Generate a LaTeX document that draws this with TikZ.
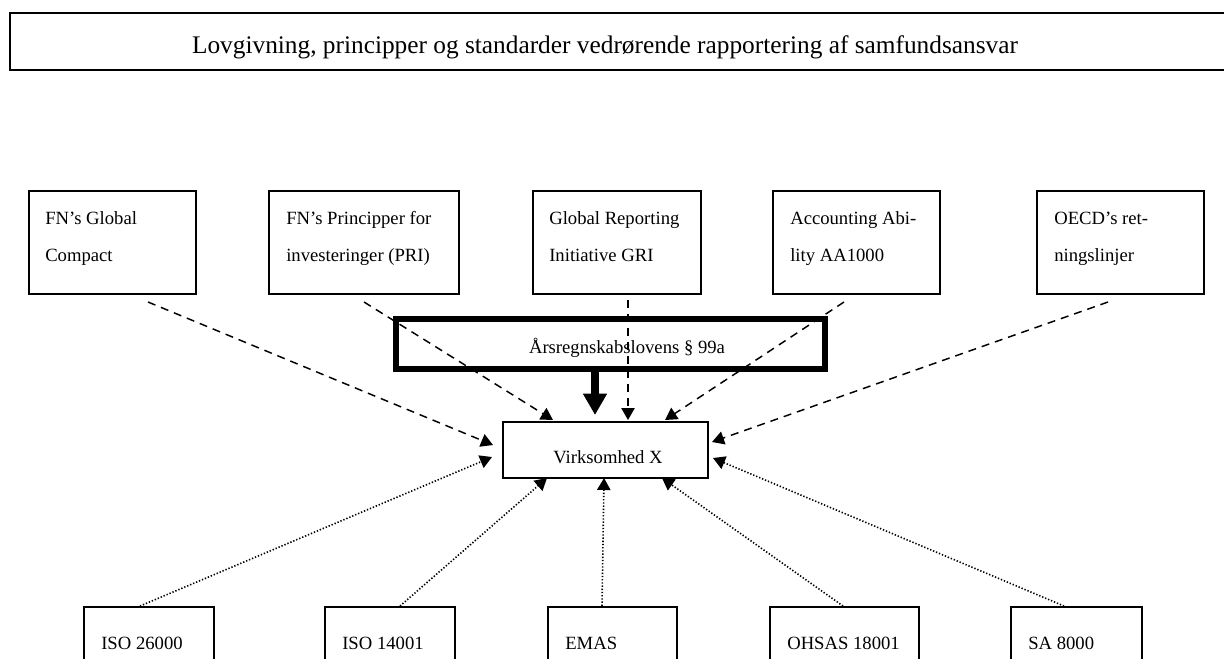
\documentclass[tikz,border=0pt]{standalone}
\usepackage{fontspec}
\setmainfont{Liberation Serif}
\usetikzlibrary{arrows.meta}
\begin{document}
\begin{tikzpicture}[x=0.75pt,y=-0.75pt,
  box/.style={draw, line width=1.2pt, inner sep=0pt},
  pxsize/.style n args={2}{minimum width={#1*0.75pt}, minimum height={#2*0.75pt}},
  txt/.style={anchor=base west, inner sep=0pt, font=\fontsize{14}{16}\selectfont},
  ctxt/.style={anchor=base, inner sep=0pt, font=\fontsize{14}{16}\selectfont},
  tip/.style={-{Triangle[length=9pt,width=10pt]}},
  dashar/.style={tip, line width=1.1pt, dash pattern=on 6pt off 4.5pt},
  dotar/.style={tip, line width=1.2pt, dash pattern=on 1pt off 1.4pt},
]
\useasboundingbox (0,0) rectangle (1224,658);
\clip (0,0) rectangle (1224,658);

% banner
\node[box, line width=1.6pt, pxsize={1240}{57}, anchor=north west] (ban) at (9,12) {};
\node[ctxt, font=\fontsize{19}{22}\selectfont] (bant) at (605,53) {Lovgivning, principper og standarder vedrørende rapportering af samfundsansvar};

% top row
\node[box, pxsize={167}{103}, anchor=north west] (b1) at (28,190) {};
\node[box, pxsize={190}{103}, anchor=north west] (b2) at (268,190) {};
\node[box, pxsize={168}{103}, anchor=north west] (b3) at (532,190) {};
\node[box, pxsize={167}{103}, anchor=north west] (b4) at (772,190) {};
\node[box, pxsize={167}{103}, anchor=north west] (b5) at (1036,190) {};
\node[txt] (b1a) at (45,224) {FN’s Global};
\node[txt] (b1b) at (45,261) {Compact};
\node[txt] (b2a) at (286,224) {FN’s Principper for};
\node[txt] (b2b) at (286,261) {investeringer (PRI)};
\node[txt] (b3a) at (549,224) {Global Reporting};
\node[txt] (b3b) at (549,261) {Initiative GRI};
\node[txt] (b4a) at (790,224) {Accounting Abi-};
\node[txt] (b4b) at (790,261) {lity AA1000};
\node[txt] (b5a) at (1054,224) {OECD’s ret-};
\node[txt] (b5b) at (1054,261) {ningslinjer};

% law box
\node[draw, line width=4.5pt, inner sep=0pt, pxsize={429}{50}, anchor=north west] (law) at (393,316) {};
\node[ctxt] (lawt) at (627,353) {Årsregnskabslovens § 99a};

% company
\node[box, pxsize={205}{56}, anchor=north west] (vx) at (502,421) {};
\node[ctxt] (vxt) at (608,463) {Virksomhed X};

% bottom row
\node[box, pxsize={130}{100}, anchor=north west] (c1) at (83,606) {};
\node[box, pxsize={130}{100}, anchor=north west] (c2) at (324,606) {};
\node[box, pxsize={129}{100}, anchor=north west] (c3) at (547,606) {};
\node[box, pxsize={149}{100}, anchor=north west] (c4) at (769,606) {};
\node[box, pxsize={131}{100}, anchor=north west] (c5) at (1010,606) {};
\node[txt] (c1t) at (101,649) {ISO 26000};
\node[txt] (c2t) at (342,649) {ISO 14001};
\node[txt] (c3t) at (565,649) {EMAS};
\node[txt] (c4t) at (787,649) {OHSAS 18001};
\node[txt] (c5t) at (1028,649) {SA 8000};

% connector ends
\coordinate (s1) at (148,302); \coordinate (t1) at (493,445);
\coordinate (s2) at (364,302); \coordinate (t2) at (553,420);
\coordinate (s3) at (628,300); \coordinate (t3) at (628,420);
\coordinate (s4) at (844,302); \coordinate (t4) at (665,420);
\coordinate (s5) at (1108,302); \coordinate (t5) at (712,442);
\coordinate (u1) at (140,606); \coordinate (v1) at (492,457);
\coordinate (u2) at (400,606); \coordinate (v2) at (547,478);
\coordinate (u3) at (602,606); \coordinate (v3) at (604,478);
\coordinate (u4) at (843,606); \coordinate (v4) at (662,478);
\coordinate (u5) at (1064,606); \coordinate (v5) at (713,458);
\coordinate (la) at (595,369); \coordinate (lb) at (595,415);

\foreach \i in {1,...,5} {
  \draw[dashar] (s\i) -- (t\i);
  \draw[dotar] (u\i) -- (v\i);
}
\draw[line width=6pt, -{Triangle[length=16pt,width=17pt]}] (la) -- (lb);
\end{tikzpicture}
\end{document}
